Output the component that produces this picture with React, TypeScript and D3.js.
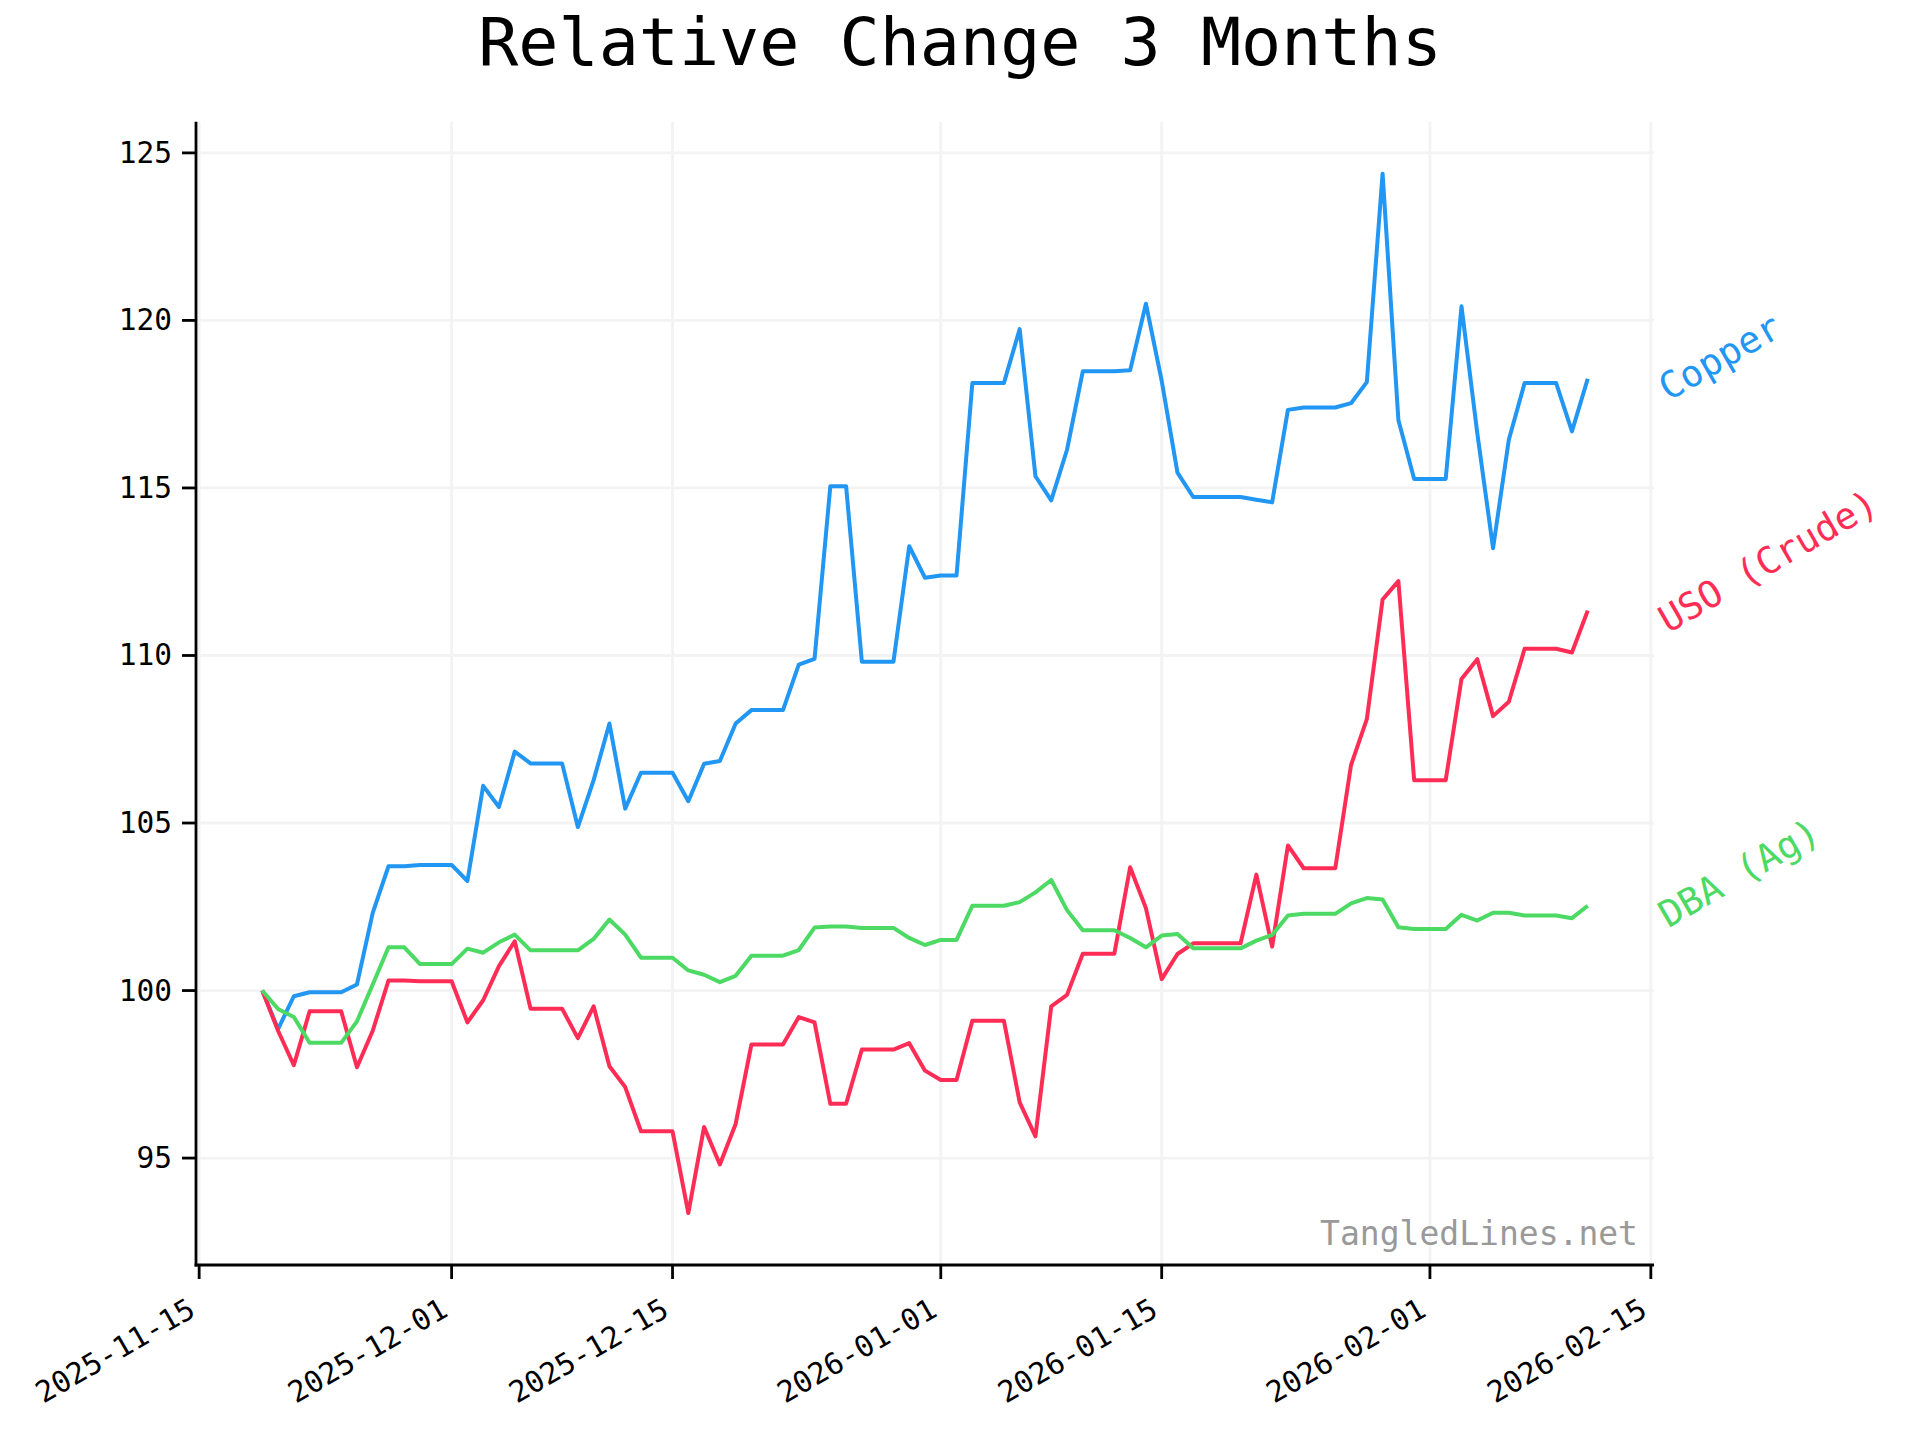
import React from "react";
import * as d3 from "d3";

const START = new Date(Date.UTC(2025, 10, 19));
const END_EXCL = new Date(Date.UTC(2026, 1, 12));
const dates: Date[] = d3.utcDay.range(START, END_EXCL);

const copper = [
  100, 98.85, 99.83, 99.95, 99.95, 99.95, 100.18, 102.32, 103.71, 103.71,
  103.75, 103.75, 103.75, 103.27, 106.11, 105.48, 107.13, 106.78, 106.78, 106.78,
  104.88, 106.28, 107.97, 105.43, 106.5, 106.5, 106.5, 105.65, 106.77, 106.85,
  107.97, 108.37, 108.37, 108.37, 109.73, 109.9, 115.05, 115.05, 109.81, 109.81,
  109.81, 113.26, 112.32, 112.39, 112.39, 118.13, 118.13, 118.13, 119.74, 115.35,
  114.63, 116.14, 118.48, 118.48, 118.48, 118.51, 120.5, 118.2, 115.46, 114.73,
  114.73, 114.73, 114.73, 114.65, 114.57, 117.33, 117.4, 117.4, 117.4, 117.53,
  118.16, 124.38, 117.03, 115.27, 115.27, 115.27, 120.42, 116.64, 113.2, 116.44,
  118.13, 118.13, 118.13, 116.69, 118.26,
];

const uso = [
  100, 98.8, 97.77, 99.38, 99.38, 99.38, 97.71, 98.8, 100.3, 100.3,
  100.28, 100.28, 100.28, 99.05, 99.71, 100.73, 101.47, 99.46, 99.46, 99.46,
  98.58, 99.53, 97.74, 97.12, 95.8, 95.8, 95.8, 93.36, 95.93, 94.81,
  96.02, 98.39, 98.39, 98.39, 99.21, 99.05, 96.62, 96.62, 98.24, 98.24,
  98.24, 98.43, 97.61, 97.33, 97.33, 99.1, 99.1, 99.1, 96.66, 95.65,
  99.53, 99.87, 101.1, 101.1, 101.1, 103.68, 102.46, 100.34, 101.09, 101.41,
  101.41, 101.41, 101.41, 103.46, 101.31, 104.33, 103.65, 103.65, 103.65, 106.73,
  108.1, 111.67, 112.22, 106.28, 106.28, 106.28, 109.3, 109.89, 108.19, 108.62,
  110.2, 110.2, 110.2, 110.09, 111.34,
];

const dba = [
  100, 99.45, 99.21, 98.44, 98.44, 98.44, 99.08, 100.18, 101.29, 101.29,
  100.79, 100.79, 100.79, 101.25, 101.13, 101.44, 101.67, 101.2, 101.2, 101.2,
  101.2, 101.54, 102.12, 101.67, 100.98, 100.98, 100.98, 100.6, 100.47, 100.25,
  100.44, 101.04, 101.04, 101.04, 101.21, 101.88, 101.91, 101.91, 101.87, 101.87,
  101.87, 101.57, 101.36, 101.51, 101.51, 102.53, 102.53, 102.53, 102.64, 102.93,
  103.3, 102.4, 101.8, 101.8, 101.8, 101.57, 101.29, 101.64, 101.69, 101.26,
  101.26, 101.26, 101.26, 101.49, 101.66, 102.24, 102.29, 102.29, 102.29, 102.6,
  102.76, 102.72, 101.89, 101.84, 101.84, 101.84, 102.26, 102.09, 102.32, 102.32,
  102.24, 102.24, 102.24, 102.16, 102.53,
];

const seriesNames = ["Copper", "USO (Crude)", "DBA (Ag)"];
const seriesColors = ["#2196F3", "#FF2D55", "#4CD964"];
const seriesValues = [copper, uso, dba];

const xTickDates = [
  new Date(Date.UTC(2025, 10, 15)),
  new Date(Date.UTC(2025, 11, 1)),
  new Date(Date.UTC(2025, 11, 15)),
  new Date(Date.UTC(2026, 0, 1)),
  new Date(Date.UTC(2026, 0, 15)),
  new Date(Date.UTC(2026, 1, 1)),
  new Date(Date.UTC(2026, 1, 15)),
];
const yTicks = [95, 100, 105, 110, 115, 120, 125];

const TITLE = "Relative Change 3 Months";
const WATERMARK = "TangledLines.net";

const W = 1920;
const H = 1440;
const LEFT = 196;
const RIGHT = 1654;
const TOP = 121.7;
const BOTTOM = 1265;
const FONT = "'DejaVu Sans Mono', monospace";

export default function App() {
  const [x0, x1] = d3.extent(dates) as [Date, Date];
  const span = x1.getTime() - x0.getTime();
  const x = d3
    .scaleUtc()
    .domain([new Date(x0.getTime() - span * 0.05), new Date(x1.getTime() + span * 0.05)])
    .range([LEFT, RIGHT]);

  const all = seriesValues.flat();
  const [ymin, ymax] = d3.extent(all) as [number, number];
  const yr = ymax - ymin;
  const y = d3
    .scaleLinear()
    .domain([ymin - yr * 0.05, ymax + yr * 0.05])
    .range([BOTTOM, TOP]);

  const fmt = d3.utcFormat("%Y-%m-%d");

  const line = (vals: number[]) =>
    d3
      .line<number>()
      .x((_, i) => x(dates[i]))
      .y((v) => y(v))(vals) as string;

  return (
    <svg
      width={W}
      height={H}
      style={{ position: "absolute", left: 0, top: 0, background: "#fff" }}
      fontFamily={FONT}
    >
      <rect x={0} y={0} width={W} height={H} fill="#fff" />
      {/* grid */}
      {yTicks.map((t) => (
        <line key={"gy" + t} x1={LEFT} x2={RIGHT} y1={y(t)} y2={y(t)} stroke="#f3f3f3" strokeWidth={2.8} />
      ))}
      {xTickDates.map((d) => (
        <line key={"gx" + d.getTime()} x1={x(d)} x2={x(d)} y1={TOP} y2={BOTTOM} stroke="#f3f3f3" strokeWidth={2.8} />
      ))}

      {/* lines */}
      {seriesValues.map((vals, k) => (
        <path
          key={seriesNames[k]}
          d={line(vals)}
          fill="none"
          stroke={seriesColors[k]}
          strokeWidth={4}
          strokeLinejoin="round"
          strokeLinecap="butt"
        />
      ))}

      {/* labels */}
      {seriesValues.map((vals, k) => (
        <text
          key={"lab" + k}
          transform={`translate(${RIGHT + 8},${y(vals[vals.length - 1]) + 12}) rotate(-30)`}
          fill={seriesColors[k]}
          fontSize={37}
          dominantBaseline="central"
          textAnchor="start"
        >
          {seriesNames[k]}
        </text>
      ))}

      {/* spines */}
      <line x1={LEFT} x2={LEFT} y1={TOP} y2={BOTTOM + 1.4} stroke="#000" strokeWidth={2.8} />
      <line x1={LEFT - 1.4} x2={RIGHT} y1={BOTTOM} y2={BOTTOM} stroke="#000" strokeWidth={2.8} />

      {/* y ticks */}
      {yTicks.map((t) => (
        <g key={"yt" + t}>
          <line x1={LEFT - 14} x2={LEFT} y1={y(t)} y2={y(t)} stroke="#000" strokeWidth={2.8} />
          <text x={LEFT - 24} y={y(t)} textAnchor="end" dominantBaseline="central" fontSize={29.5} fill="#000">
            {t}
          </text>
        </g>
      ))}

      {/* x ticks */}
      {xTickDates.map((d) => (
        <g key={"xt" + d.getTime()}>
          <line x1={x(d)} x2={x(d)} y1={BOTTOM} y2={BOTTOM + 14} stroke="#000" strokeWidth={2.8} />
          <text
            transform={`translate(${x(d) - 2},${BOTTOM + 50}) rotate(-30)`}
            textAnchor="end"
            fontSize={29.5}
            fill="#000"
          >
            {fmt(d)}
          </text>
        </g>
      ))}

      {/* watermark */}
      <text x={1638} y={1245} textAnchor="end" fontSize={33} fill="#999999">
        {WATERMARK}
      </text>

      {/* title */}
      <text x={960} y={65} textAnchor="middle" fontSize={66.7} fill="#000">
        {TITLE}
      </text>
    </svg>
  );
}
